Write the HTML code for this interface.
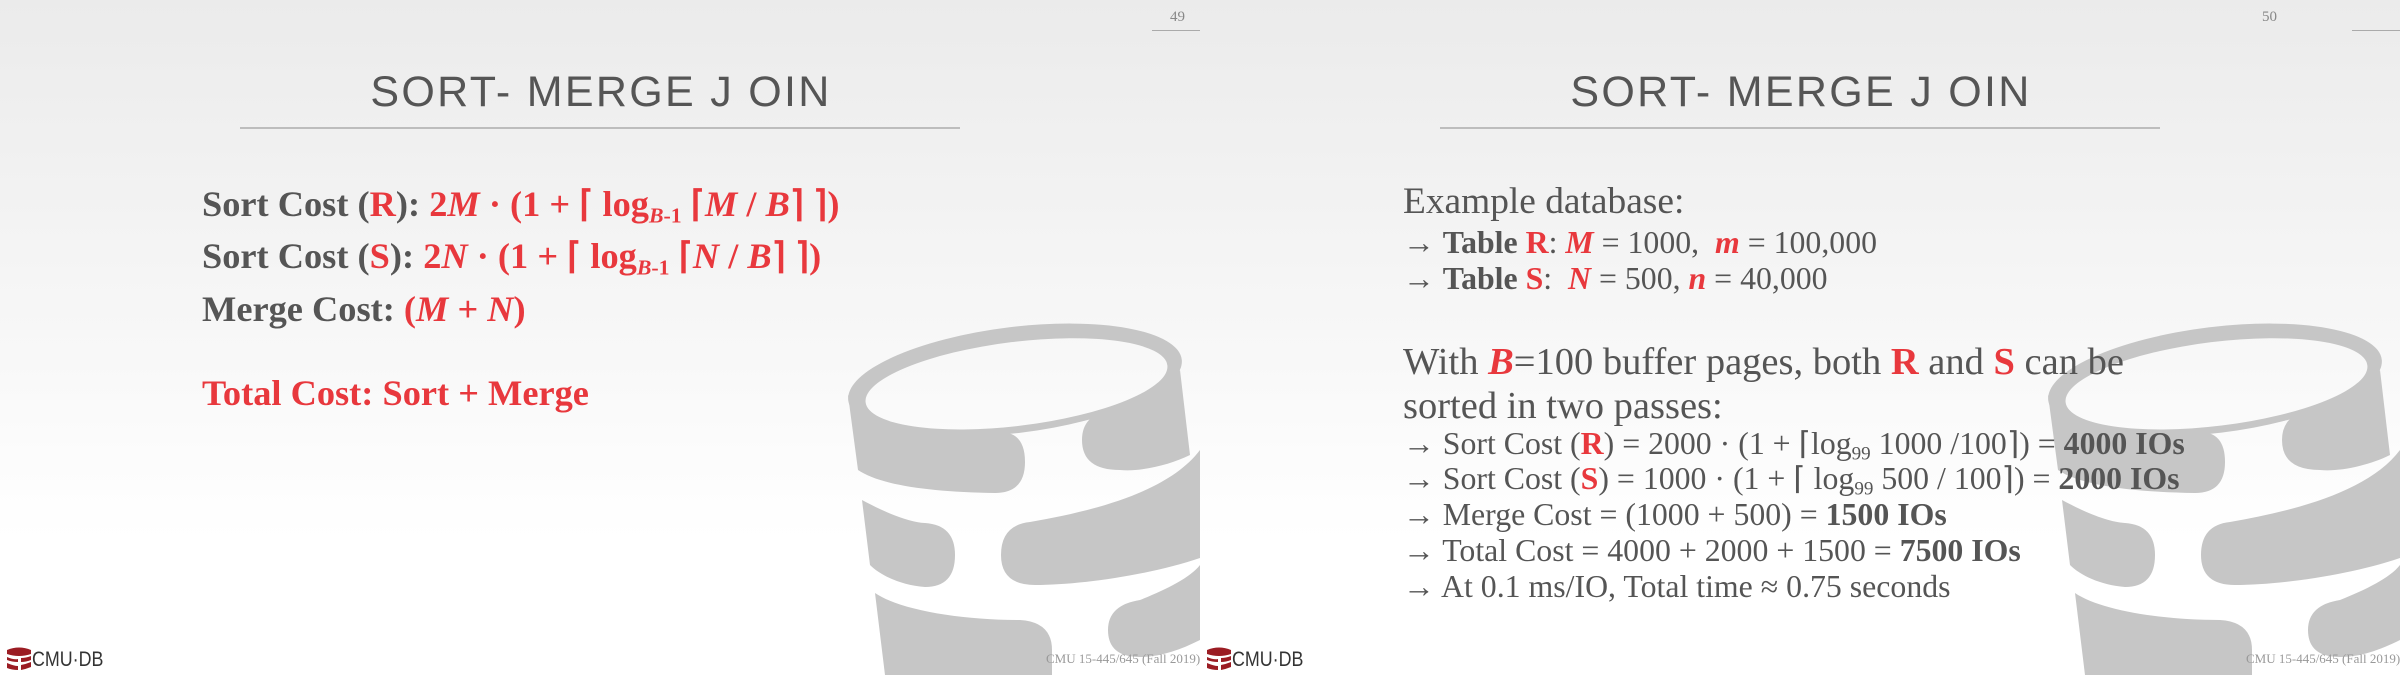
<!DOCTYPE html>
<html><head><meta charset="utf-8">
<style>
*{margin:0;padding:0;box-sizing:border-box}
body{width:2400px;height:675px;overflow:hidden;background:#fff}
.slide{position:absolute;top:0;width:1200px;height:675px;background:linear-gradient(#ebebeb 0%,#f6f6f6 45%,#fff 80%);overflow:hidden}
.t{position:absolute;white-space:nowrap;line-height:1}
.title{font-family:"Liberation Sans",sans-serif;font-size:43px;letter-spacing:2.3px;color:#555;left:0;width:1200px;text-align:center;top:71px;padding-left:2px}
.tl{position:absolute;left:240px;width:720px;top:127px;height:2px;background:#bdbdbd}
.pn{font-family:"Liberation Serif",serif;font-size:15px;color:#888}
.pl{position:absolute;left:1152px;width:48px;top:30px;height:1px;background:#aaa}
.b{font-family:"Liberation Serif",serif;font-weight:bold;font-size:36px;color:#555;transform:scaleX(1.01);transform-origin:left top}
.r{color:#e8383d}
.s2{font-family:"Liberation Serif",serif;color:#555;transform-origin:left top}
.a{font-size:31.5px;transform:scaleX(1.01)}
.big{font-size:38.5px;transform:scaleX(1.0)}
.ft{font-family:"Liberation Serif",serif;font-size:13px;color:#999;left:1046px;top:652px;transform:scaleX(1.0);transform-origin:left top}
.logo{position:absolute;left:6px;top:647px}
.lt{font-family:"Liberation Sans",sans-serif;font-size:21px;color:#333;left:32px;top:649px;transform:scaleX(0.85);transform-origin:left top}
sub{font-size:60%;vertical-align:-0.3em}
</style></head><body>

<!-- SLIDE 49 -->
<div class="slide" style="left:0">
<svg width="1200" height="675" style="position:absolute;left:0;top:0">
<g fill="#c6c6c6">
<g transform="rotate(-7 1015 380)"><path fill-rule="evenodd" d="M847,380 a168,53 0 1,0 336,0 a168,53 0 1,0 -336,0 Z M864,384 a152,42 0 1,0 304,0 a152,42 0 1,0 -304,0 Z"/></g>
<path d="M848,395 C860,420 910,438 1000,432 Q1025,432 1025,462 Q1025,493 995,493 C930,492 880,485 858,470 Z"/>
<path d="M1110,410 C1140,400 1168,388 1180,370 L1190,455 C1170,465 1140,472 1120,470 Q1082,470 1082,440 Q1082,415 1110,410 Z"/>
<path d="M862,500 C890,515 910,522 925,523 Q955,525 955,555 Q955,587 925,587 C900,585 880,575 870,565 Z"/>
<path d="M1030,522 C1100,510 1170,490 1200,450 L1200,558 C1150,575 1080,585 1035,585 Q1001,585 1001,555 Q1001,525 1030,522 Z"/>
<path d="M875,593 C900,610 960,620 1020,620 Q1052,622 1052,650 L1052,675 L885,675 Z"/>
<path d="M1140,600 C1165,590 1190,578 1200,565 L1200,640 C1180,650 1160,657 1140,657 Q1108,657 1108,630 Q1108,605 1140,600 Z"/>
</g></svg>
<div class="t pn" style="left:1170px;top:10px">49</div><div class="pl"></div>
<div class="t title">SORT- MERGE J OIN</div><div class="tl"></div>
<div class="t b" style="left:202px;top:186px">Sort Cost (<span class="r">R</span>): <span class="r">2<i>M</i> · (1 + ⌈ log<sub><i>B</i>-1</sub> ⌈<i>M</i> / <i>B</i>⌉ ⌉)</span></div>
<div class="t b" style="left:202px;top:238px">Sort Cost (<span class="r">S</span>): <span class="r">2<i>N</i> · (1 + ⌈ log<sub><i>B</i>-1</sub> ⌈<i>N</i> / <i>B</i>⌉ ⌉)</span></div>
<div class="t b" style="left:202px;top:291px">Merge Cost: <span class="r">(<i>M</i> + <i>N</i>)</span></div>
<div class="t b r" style="left:202px;top:375px">Total Cost: Sort + Merge</div>
<svg class="logo" width="26" height="24" viewBox="0 0 26 24"><g fill="#9b1c23"><path d="M1,3 Q13,-2 25,3 L25,7 Q13,11 1,7Z"/><path d="M1,10 Q8,13 12,12 L12,15 Q6,15 1,13Z M15,11 Q20,11 25,9 L25,13 Q20,15 15,15Z"/><path d="M1,16 Q8,19 12,19 L12,23 Q6,23 1,21Z M15,18 Q20,17 25,15 L25,20 Q20,22 15,23Z"/></g></svg>
<div class="t lt">CMU·DB</div>
<div class="t ft">CMU 15-445/645 (Fall 2019)</div>
</div>

<!-- SLIDE 50 -->
<div class="slide" style="left:1200px">
<svg width="1200" height="675" style="position:absolute;left:0;top:0">
<g fill="#c6c6c6">
<g transform="rotate(-7 1015 380)"><path fill-rule="evenodd" d="M847,380 a168,53 0 1,0 336,0 a168,53 0 1,0 -336,0 Z M864,384 a152,42 0 1,0 304,0 a152,42 0 1,0 -304,0 Z"/></g>
<path d="M848,395 C860,420 910,438 1000,432 Q1025,432 1025,462 Q1025,493 995,493 C930,492 880,485 858,470 Z"/>
<path d="M1110,410 C1140,400 1168,388 1180,370 L1190,455 C1170,465 1140,472 1120,470 Q1082,470 1082,440 Q1082,415 1110,410 Z"/>
<path d="M862,500 C890,515 910,522 925,523 Q955,525 955,555 Q955,587 925,587 C900,585 880,575 870,565 Z"/>
<path d="M1030,522 C1100,510 1170,490 1200,450 L1200,558 C1150,575 1080,585 1035,585 Q1001,585 1001,555 Q1001,525 1030,522 Z"/>
<path d="M875,593 C900,610 960,620 1020,620 Q1052,622 1052,650 L1052,675 L885,675 Z"/>
<path d="M1140,600 C1165,590 1190,578 1200,565 L1200,640 C1180,650 1160,657 1140,657 Q1108,657 1108,630 Q1108,605 1140,600 Z"/>
</g></svg>
<div class="t pn" style="left:1062px;top:10px">50</div><div class="pl"></div>
<div class="t title">SORT- MERGE J OIN</div><div class="tl"></div>
<div class="t s2" style="left:203px;top:183px;font-size:37.4px">Example database:</div>
<div class="t s2 a" style="left:203px;top:227px">→ <b>Table <span class="r">R</span></b>: <b class="r"><i>M</i></b> = 1000,&nbsp; <b class="r"><i>m</i></b> = 100,000</div>
<div class="t s2 a" style="left:203px;top:263px">→ <b>Table <span class="r">S</span></b>:&nbsp; <b class="r"><i>N</i></b> = 500, <b class="r"><i>n</i></b> = 40,000</div>
<div class="t s2 big" style="left:203px;top:343px">With <b class="r"><i>B</i></b>=100 buffer pages, both <b class="r">R</b> and <b class="r">S</b> can be</div>
<div class="t s2 big" style="left:203px;top:387px">sorted in two passes:</div>
<div class="t s2 a" style="left:203px;top:428px">→ Sort Cost (<b class="r">R</b>) = 2000 · (1 + ⌈log<sub>99</sub> 1000 /100⌉) = <b>4000 IOs</b></div>
<div class="t s2 a" style="left:203px;top:463px">→ Sort Cost (<b class="r">S</b>) = 1000 · (1 + ⌈ log<sub>99</sub> 500 / 100⌉) = <b>2000 IOs</b></div>
<div class="t s2 a" style="left:203px;top:499px">→ Merge Cost = (1000 + 500) = <b>1500 IOs</b></div>
<div class="t s2 a" style="left:203px;top:535px">→ Total Cost = 4000 + 2000 + 1500 = <b>7500 IOs</b></div>
<div class="t s2 a" style="left:203px;top:571px">→ At 0.1 ms/IO, Total time ≈ 0.75 seconds</div>
<svg class="logo" width="26" height="24" viewBox="0 0 26 24"><g fill="#9b1c23"><path d="M1,3 Q13,-2 25,3 L25,7 Q13,11 1,7Z"/><path d="M1,10 Q8,13 12,12 L12,15 Q6,15 1,13Z M15,11 Q20,11 25,9 L25,13 Q20,15 15,15Z"/><path d="M1,16 Q8,19 12,19 L12,23 Q6,23 1,21Z M15,18 Q20,17 25,15 L25,20 Q20,22 15,23Z"/></g></svg>
<div class="t lt">CMU·DB</div>
<div class="t ft">CMU 15-445/645 (Fall 2019)</div>
</div>
</body></html>
